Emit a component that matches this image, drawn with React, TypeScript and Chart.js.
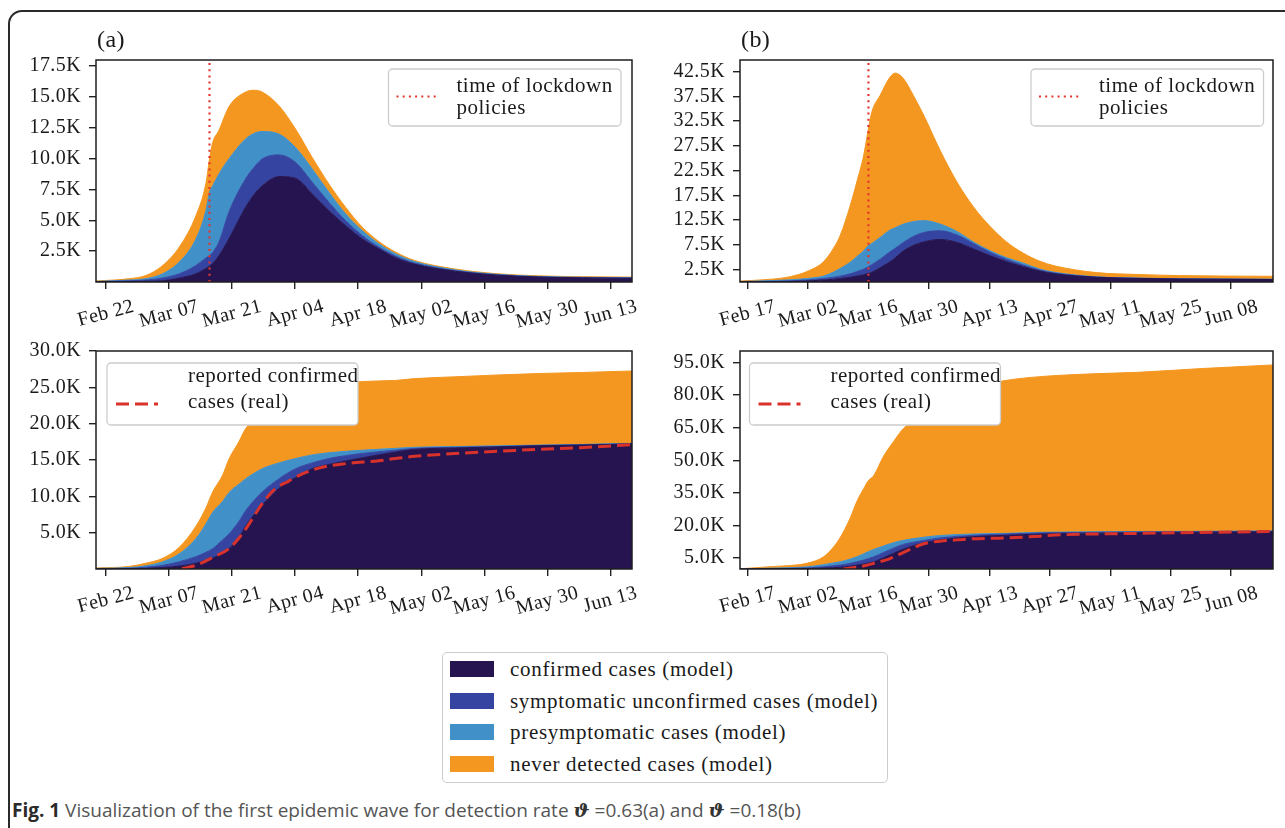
import React, { useEffect, useRef } from 'react';
import { Chart, registerables } from 'chart.js';

Chart.register(...registerables);

const SERIF = '"Liberation Serif", "Times New Roman", serif';
const INK = '#1a1a1a';
const COLOR_CONFIRMED = '#25144f';
const COLOR_SYMPTOMATIC = '#3444a0';
const COLOR_PRESYM = '#4190c8';
const COLOR_NEVER = '#f49720';
const COLOR_LOCKDOWN = '#e3352d';
const COLOR_REAL = '#d9322a';

// ---- x axis: day number of 2020 (Jan 1 = 0) ----
const tickDaysA = [52, 66, 80, 94, 108, 122, 136, 150, 164];
const tickLabelsA = ['Feb 22', 'Mar 07', 'Mar 21', 'Apr 04', 'Apr 18', 'May 02', 'May 16', 'May 30', 'Jun 13'];
const tickDaysB = [47, 61, 75, 89, 103, 117, 131, 145, 159];
const tickLabelsB = ['Feb 17', 'Mar 02', 'Mar 16', 'Mar 30', 'Apr 13', 'Apr 27', 'May 11', 'May 25', 'Jun 08'];
const lockdownDay = 75;

// ---- y ticks (thousands of cases) ----
const yTicksDailyA = [2.5, 5, 7.5, 10, 12.5, 15, 17.5];
const yTicksDailyB = [2.5, 7.5, 12.5, 17.5, 22.5, 27.5, 32.5, 37.5, 42.5];
const yTicksCumA = [5, 10, 15, 20, 25, 30];
const yTicksCumB = [5, 20, 35, 50, 65, 80, 95];

// ---- (a) current cases, thousands ----
const daysA = [49.8, 57.2, 60.9, 64.6, 68.3, 72, 74.2, 75, 75.7, 77.1, 79.3, 83, 84.9, 86.7, 90.4, 94.1, 97.8, 101.5, 105.2, 108.9, 112.6, 116.3, 120.5, 129.6, 138.9, 148, 158, 168.8];
const confirmedA = [0.02, 0.04, 0.06, 0.10, 0.32, 0.67, 1.10, 1.29, 1.50, 2.15, 3.50, 6.07, 7.10, 7.80, 8.55, 8.41, 7.14, 5.79, 4.58, 3.50, 2.69, 1.97, 1.45, 0.87, 0.55, 0.40, 0.33, 0.30];
const symptomaticA = [0.01, 0.06, 0.10, 0.22, 0.35, 0.67, 0.85, 0.86, 0.90, 1.09, 2.16, 2.29, 2.20, 2.18, 1.75, 1.29, 0.95, 0.68, 0.40, 0.27, 0.14, 0.13, 0.09, 0.05, 0.03, 0.02, 0.02, 0.02];
const presymA = [0.02, 0.06, 0.11, 0.35, 0.95, 2.16, 3.85, 5.13, 5.40, 5.52, 4.32, 3.24, 2.75, 2.22, 1.70, 1.20, 1.08, 0.81, 0.55, 0.40, 0.27, 0.19, 0.12, 0.06, 0.04, 0.03, 0.03, 0.03];
const neverA = [0.03, 0.11, 0.26, 0.67, 1.21, 1.89, 2.20, 2.70, 3.50, 3.54, 4.22, 3.80, 3.50, 3.20, 2.30, 1.50, 0.93, 0.67, 0.54, 0.28, 0.18, 0.14, 0.09, 0.07, 0.05, 0.05, 0.05, 0.05];

// ---- (a) cumulative cases, thousands ----
const daysCumA = [49.8, 57.2, 60.9, 64.6, 68.3, 72, 74.2, 75.7, 77.9, 79.3, 81.6, 83, 86.7, 90.4, 94.1, 97.8, 101.5, 108.9, 116.3, 120.5, 129.6, 138.9, 148, 158, 168.8];
const confirmedCumA = [0.02, 0.04, 0.08, 0.20, 0.40, 0.80, 1.20, 1.50, 2.20, 2.80, 4.40, 5.90, 8.80, 11.1, 12.6, 13.8, 14.4, 15.3, 16.1, 16.45, 16.65, 16.8, 16.95, 17.05, 17.2];
const symptomaticCumA = [0.03, 0.06, 0.17, 0.30, 0.60, 0.90, 1.10, 1.30, 1.80, 2.00, 2.20, 2.10, 1.80, 1.30, 1.20, 0.80, 0.80, 0.60, 0.25, 0.15, 0.10, 0.05, 0.05, 0.05, 0.05];
const presymCumA = [0.03, 0.10, 0.20, 0.50, 1.10, 2.50, 3.90, 5.00, 5.30, 5.70, 5.10, 4.40, 3.20, 2.20, 1.40, 1.10, 0.80, 0.45, 0.25, 0.15, 0.10, 0.10, 0.05, 0.05, 0.05];
const neverCumA = [0.05, 0.16, 0.35, 0.47, 0.90, 1.70, 2.20, 2.80, 3.60, 4.60, 5.90, 6.90, 7.50, 8.20, 8.70, 9.00, 9.20, 9.45, 9.35, 9.45, 9.60, 9.75, 9.85, 9.90, 9.95];
const realDaysA = [68.9, 72, 75.7, 79.3, 81.6, 83.7, 86.7, 89.7, 92.6, 95.6, 100, 105.2, 112.6, 116.3, 120.5, 138.9, 157.3, 168.8];
const realA = [0.05, 0.5, 1.6, 2.8, 4.3, 6.1, 9.0, 11.1, 12.1, 13.1, 14.0, 14.5, 14.9, 15.2, 15.5, 16.2, 16.7, 17.1];

// ---- (b) current cases, thousands ----
const daysB = [45.3, 53, 56.9, 60.7, 64.6, 66.9, 68.5, 70.8, 72.3, 73.9, 75, 75.8, 77.7, 80, 81.2, 83.1, 85.4, 87.8, 91.6, 95.5, 99.3, 103.2, 107, 110.9, 114.7, 118.2, 127.8, 137.4, 147, 157, 168.7];
const confirmedB = [0.02, 0.05, 0.10, 0.20, 0.40, 0.55, 0.70, 0.95, 1.20, 1.45, 1.75, 1.95, 2.9, 4.1, 4.9, 6.3, 7.4, 8.1, 8.6, 8.0, 6.7, 5.3, 4.1, 3.1, 2.2, 1.65, 0.95, 0.72, 0.6, 0.55, 0.5];
const symptomaticB = [0.03, 0.10, 0.15, 0.20, 0.30, 0.40, 0.50, 0.70, 0.90, 1.15, 1.35, 1.55, 1.7, 2.0, 1.9, 1.7, 1.8, 1.9, 1.75, 1.5, 1.1, 0.7, 0.5, 0.3, 0.2, 0.15, 0.05, 0.03, 0.02, 0.02, 0.02];
const presymB = [0.05, 0.15, 0.20, 0.30, 0.50, 1.05, 1.56, 2.35, 3.0, 3.7, 4.3, 4.3, 4.4, 4.4, 4.15, 3.7, 3.0, 2.4, 1.35, 0.7, 0.3, 0.3, 0.3, 0.4, 0.2, 0.15, 0.05, 0.04, 0.03, 0.03, 0.03];
const neverB = [0.1, 0.3, 0.63, 1.4, 2.9, 4.8, 6.74, 11.5, 15.1, 19.3, 23.6, 26.6, 28.7, 30.9, 31.25, 29.4, 25.5, 21.3, 14.9, 10.0, 7.1, 4.9, 3.2, 2.0, 1.6, 1.3, 0.85, 0.73, 0.65, 0.6, 0.6];

// ---- (b) cumulative cases, thousands ----
const daysCumB = [45.3, 53, 56.9, 60.7, 64.6, 66.9, 68.5, 70.8, 72.3, 73.9, 75, 76.2, 78.5, 80.8, 83.1, 87.8, 91.6, 99.3, 107, 114.7, 127, 137.4, 152, 168.7];
const confirmedCumB = [0.02, 0.08, 0.12, 0.2, 0.4, 0.6, 0.8, 1.3, 1.8, 2.3, 2.8, 3.3, 5.2, 7.2, 9.2, 12.1, 13.4, 14.9, 15.5, 16.1, 16.5, 16.7, 16.9, 17.1];
const symptomaticCumB = [0.02, 0.12, 0.18, 0.3, 0.6, 0.9, 1.0, 1.3, 1.5, 1.8, 2.0, 2.3, 2.4, 2.4, 2.1, 1.0, 0.9, 0.6, 0.6, 0.5, 0.4, 0.35, 0.3, 0.25];
const presymCumB = [0.02, 0.2, 0.3, 0.5, 1.0, 1.3, 1.5, 2.0, 2.3, 2.9, 3.2, 3.4, 3.0, 2.5, 1.9, 1.5, 1.1, 0.6, 0.3, 0.3, 0.2, 0.2, 0.15, 0.15];
const neverCumB = [0.04, 0.76, 1.0, 1.6, 3.6, 7.3, 11.3, 19.0, 25.4, 30.0, 32.7, 33.9, 41.3, 46.5, 51.4, 56.4, 62.1, 67.4, 70.4, 71.6, 72.7, 73.25, 74.85, 76.4];
const realDaysB = [69.2, 72.3, 76.2, 80, 83.9, 87.8, 91.6, 95.5, 99.3, 107, 114.7, 118.2, 137.4, 168.7];
const realB = [0.0, 0.8, 2.6, 4.8, 8.3, 11.6, 12.8, 13.4, 13.9, 14.3, 15.1, 15.6, 16.4, 17.3];

const seriesLabels = [
  'confirmed cases (model)',
  'symptomatic unconfirmed cases (model)',
  'presymptomatic cases (model)',
  'never detected cases (model)',
];
const seriesColors = [COLOR_CONFIRMED, COLOR_SYMPTOMATIC, COLOR_PRESYM, COLOR_NEVER];

type LegendSpec = {
  x: number; y: number; w: number; h: number;
  s0: number; s1: number; sy: number; tx: number; ys: number[];
  lines: string[]; dash: number[]; lw: number; color: string;
};

type PanelSpec = {
  left: number; top: number; cw: number; ch: number; padTop: number; xHeight: number;
  xMin: number; xMax: number; yMax: number; yTicks: number[];
  tickDays: number[]; tickLabels: string[];
  days: number[]; layers: number[][];
  overlay: 'lockdown' | 'real';
  realDays?: number[]; realValues?: number[];
  panelLabel?: string;
  labelOffset: number;
  legend: LegendSpec;
};

const topLegend = (x: number): LegendSpec => ({
  x, y: 9, w: 232.5, h: 57, s0: 8, s1: 50, sy: 27.5, tx: 68, ys: [17.5, 39.5],
  lines: ['time of lockdown', 'policies'], dash: [2, 4.2], lw: 2.2, color: COLOR_LOCKDOWN,
});
const bottomLegend = (x: number): LegendSpec => ({
  x, y: 12, w: 251, h: 62, s0: 9, s1: 51, sy: 41, tx: 81, ys: [13.5, 39.5],
  lines: ['reported confirmed', 'cases (real)'], dash: [13, 6], lw: 3, color: COLOR_REAL,
});

const panels: PanelSpec[] = [
  {
    left: 6, top: 25, cw: 638, ch: 305, padTop: 35, xHeight: 48,
    xMin: 49.8, xMax: 168.8, yMax: 18.0, yTicks: yTicksDailyA,
    tickDays: tickDaysA, tickLabels: tickLabelsA,
    days: daysA, layers: [confirmedA, symptomaticA, presymA, neverA],
    overlay: 'lockdown', panelLabel: '(a)', labelOffset: 15, legend: topLegend(292.5),
  },
  {
    left: 650, top: 25, cw: 635, ch: 305, padTop: 35, xHeight: 48,
    xMin: 45.25, xMax: 168.7, yMax: 44.85, yTicks: yTicksDailyB,
    tickDays: tickDaysB, tickLabels: tickLabelsB,
    days: daysB, layers: [confirmedB, symptomaticB, presymB, neverB],
    overlay: 'lockdown', panelLabel: '(b)', labelOffset: 15, legend: topLegend(291),
  },
  {
    left: 6, top: 331, cw: 638, ch: 296, padTop: 14, xHeight: 58,
    xMin: 49.8, xMax: 168.8, yMax: 30.0, yTicks: yTicksCumA,
    tickDays: tickDaysA, tickLabels: tickLabelsA,
    days: daysCumA, layers: [confirmedCumA, symptomaticCumA, presymCumA, neverCumA],
    overlay: 'real', realDays: realDaysA, realValues: realA, labelOffset: 14.5, legend: bottomLegend(11),
  },
  {
    left: 650, top: 331, cw: 635, ch: 296, padTop: 14, xHeight: 58,
    xMin: 45.25, xMax: 168.7, yMax: 100.3, yTicks: yTicksCumB,
    tickDays: tickDaysB, tickLabels: tickLabelsB,
    days: daysCumB, layers: [confirmedCumB, symptomaticCumB, presymCumB, neverCumB],
    overlay: 'real', realDays: realDaysB, realValues: realB, labelOffset: 14.5, legend: bottomLegend(9.5),
  },
];

function figurePlugin(p: PanelSpec) {
  return {
    id: 'figureDecor',
    beforeDraw(chart: any) {
      chart.ctx.letterSpacing = '0.4px';
    },
    afterDraw(chart: any) {
      const ctx: CanvasRenderingContext2D = chart.ctx;
      const a = chart.chartArea;
      const xs = chart.scales.x;
      ctx.save();
      // axes frame
      ctx.strokeStyle = '#1e1e1e';
      ctx.lineWidth = 1.5;
      ctx.setLineDash([]);
      ctx.strokeRect(a.left, a.top, a.right - a.left, a.bottom - a.top);

      // rotated x tick labels (centred under tick)
      ctx.font = `20px ${SERIF}`;
      (ctx as any).letterSpacing = '0.4px';
      ctx.fillStyle = INK;
      const th = (15 * Math.PI) / 180;
      p.tickDays.forEach((d, i) => {
        const label = p.tickLabels[i];
        const x = xs.getPixelForValue(d);
        const w = ctx.measureText(label).width;
        const cy = a.bottom + p.labelOffset + (w * Math.sin(th) + 19 * Math.cos(th)) / 2;
        ctx.save();
        ctx.translate(x, cy);
        ctx.rotate(-th);
        ctx.textAlign = 'center';
        ctx.textBaseline = 'middle';
        ctx.fillText(label, 0, 0);
        ctx.restore();
      });

      // panel label
      if (p.panelLabel) {
        ctx.font = `24px ${SERIF}`;
        ctx.textAlign = 'left';
        ctx.textBaseline = 'middle';
        ctx.fillText(p.panelLabel, a.left + 1, a.top - 19);
      }

      // legend
      const L = p.legend;
      const bx = a.left + L.x;
      const by = a.top + L.y;
      ctx.beginPath();
      (ctx as any).roundRect(bx, by, L.w, L.h, 4);
      ctx.fillStyle = '#ffffff';
      ctx.fill();
      ctx.strokeStyle = '#cccccc';
      ctx.lineWidth = 1.3;
      ctx.stroke();
      ctx.beginPath();
      ctx.setLineDash(L.dash);
      ctx.strokeStyle = L.color;
      ctx.lineWidth = L.lw;
      ctx.moveTo(bx + L.s0, by + L.sy);
      ctx.lineTo(bx + L.s1, by + L.sy);
      ctx.stroke();
      ctx.setLineDash([]);
      ctx.font = `21px ${SERIF}`;
      (ctx as any).letterSpacing = '0.5px';
      ctx.fillStyle = INK;
      ctx.textAlign = 'left';
      ctx.textBaseline = 'middle';
      L.lines.forEach((t, i) => ctx.fillText(t, bx + L.tx, by + L.ys[i]));
      ctx.restore();
    },
  };
}

function buildConfig(p: PanelSpec): any {
  const datasets: any[] = p.layers.map((vals, i) => ({
    type: 'line',
    label: seriesLabels[i],
    data: p.days.map((d, j) => ({ x: d, y: vals[j] })),
    backgroundColor: seriesColors[i],
    borderColor: seriesColors[i],
    borderWidth: 1,
    pointRadius: 0,
    fill: i === 0 ? 'origin' : '-1',
    cubicInterpolationMode: 'monotone',
    stack: 'model',
    order: 1,
  }));
  if (p.overlay === 'lockdown') {
    datasets.push({
      type: 'line',
      label: 'time of lockdown policies',
      data: [{ x: lockdownDay, y: 0 }, { x: lockdownDay, y: p.yMax }],
      borderColor: COLOR_LOCKDOWN,
      borderWidth: 2.2,
      borderDash: [2, 4.2],
      pointRadius: 0,
      fill: false,
      tension: 0,
      stack: 'lockdown',
      order: 0,
    });
  } else {
    datasets.push({
      type: 'line',
      label: 'reported confirmed cases (real)',
      data: (p.realDays || []).map((d, j) => ({ x: d, y: (p.realValues || [])[j] })),
      borderColor: COLOR_REAL,
      borderWidth: 3,
      borderDash: [13, 6],
      pointRadius: 0,
      fill: false,
      cubicInterpolationMode: 'monotone',
      stack: 'real',
      order: 0,
    });
  }
  const gridOpts = {
    display: true,
    drawOnChartArea: false,
    drawTicks: true,
    tickLength: 7,
    color: '#222222',
    lineWidth: 1.4,
  };
  return {
    type: 'line',
    data: { datasets },
    options: {
      responsive: false,
      animation: false,
      devicePixelRatio: 1,
      layout: { padding: { left: 0, right: 12, top: p.padTop, bottom: 0 } },
      plugins: { legend: { display: false }, tooltip: { enabled: false }, title: { display: false } },
      scales: {
        x: {
          type: 'linear',
          min: p.xMin,
          max: p.xMax,
          afterBuildTicks: (s: any) => {
            s.ticks = p.tickDays.map((v) => ({ value: v }));
          },
          ticks: { display: false },
          grid: gridOpts,
          border: { display: false },
          afterFit: (s: any) => {
            s.height = p.xHeight;
          },
        },
        y: {
          type: 'linear',
          min: 0,
          max: p.yMax,
          stacked: true,
          afterBuildTicks: (s: any) => {
            s.ticks = p.yTicks.map((v) => ({ value: v }));
          },
          ticks: {
            autoSkip: false,
            padding: 8,
            color: INK,
            font: { family: SERIF, size: 20 },
            callback: (v: any) => `${Number(v).toFixed(1)}K`,
          },
          grid: gridOpts,
          border: { display: false },
          afterFit: (s: any) => {
            s.width = 90;
          },
        },
      },
    },
    plugins: [figurePlugin(p)],
  };
}

function Panel({ spec }: { spec: PanelSpec }) {
  const ref = useRef<HTMLCanvasElement>(null);
  useEffect(() => {
    if (!ref.current) return;
    const chart = new Chart(ref.current, buildConfig(spec));
    return () => chart.destroy();
  }, [spec]);
  return (
    <canvas
      ref={ref}
      width={spec.cw}
      height={spec.ch}
      style={{ position: 'absolute', left: spec.left, top: spec.top, width: spec.cw, height: spec.ch }}
    />
  );
}

export default function App() {
  const rowTops = [16.5, 48.2, 79.8, 111];
  const thetaStyle: React.CSSProperties = {
    fontFamily: '"DejaVu Serif", serif', fontWeight: 700, fontStyle: 'italic', color: '#333',
  };
  return (
    <div
      style={{
        position: 'absolute', left: 0, top: 0, width: 1285, height: 828,
        overflow: 'hidden', background: '#ffffff',
      }}
    >
      <div
        style={{
          position: 'absolute', left: 8, top: 10, width: 1320, height: 860,
          border: '2px solid #2a2a2a', borderRadius: 14, boxSizing: 'border-box',
        }}
      />
      {panels.map((p, i) => (
        <Panel key={i} spec={p} />
      ))}
      <div
        style={{
          position: 'absolute', left: 442, top: 651.5, width: 446, height: 131.5,
          border: '1.3px solid #cccccc', borderRadius: 5, boxSizing: 'border-box',
          fontFamily: SERIF, fontSize: 21, letterSpacing: '0.7px', color: INK,
        }}
      >
        {seriesLabels.map((lab, i) => (
          <React.Fragment key={lab}>
            <div
              style={{
                position: 'absolute', left: 7, top: rowTops[i] - 8, width: 44, height: 16,
                background: seriesColors[i],
              }}
            />
            <div
              style={{
                position: 'absolute', left: 67, top: rowTops[i] - 13, height: 26, lineHeight: '26px',
                whiteSpace: 'nowrap',
              }}
            >
              {lab}
            </div>
          </React.Fragment>
        ))}
      </div>
      <div
        style={{
          position: 'absolute', left: 12, top: 797, whiteSpace: 'nowrap',
          fontFamily: '"Open Sans", "Noto Sans", sans-serif', fontSize: 19, color: '#555555',
          lineHeight: '26px',
        }}
      >
        <span style={{ fontWeight: 700, color: '#2a2a2a' }}>Fig. 1</span> Visualization of the first epidemic wave
        for detection rate <span style={thetaStyle}>ϑ</span> =0.63(a) and <span style={thetaStyle}>ϑ</span> =0.18(b)
      </div>
    </div>
  );
}
